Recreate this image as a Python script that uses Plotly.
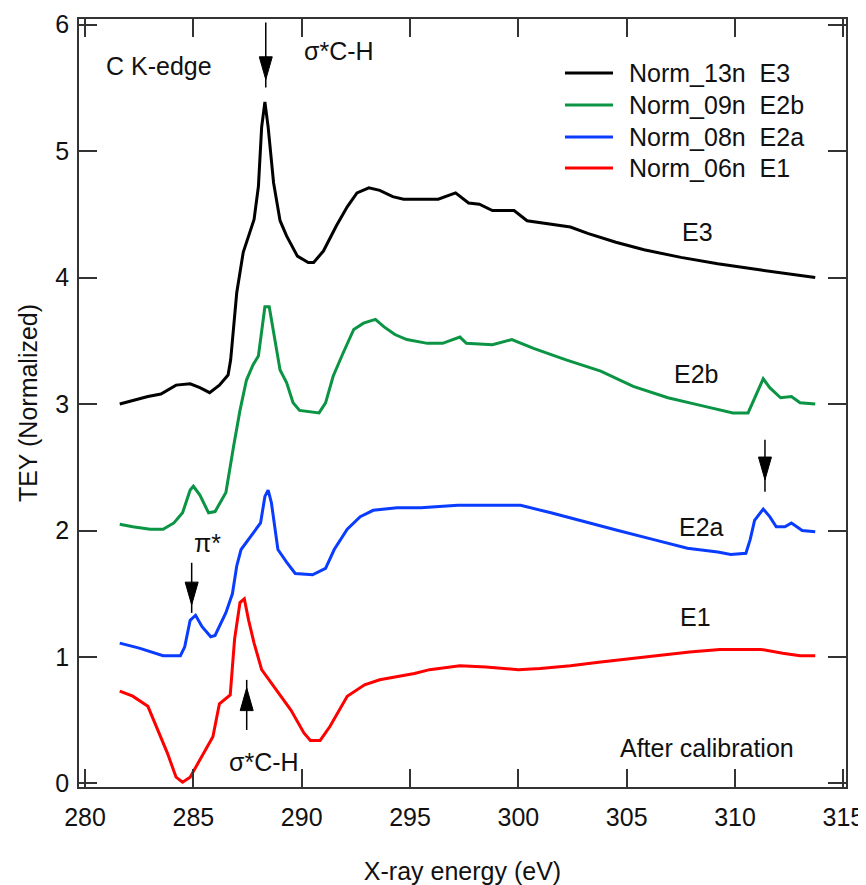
import plotly.graph_objects as go

# ---------------- data ----------------
e3_energy = [281.6, 282.2, 282.9, 283.5, 284.2, 284.85, 285.3, 285.75, 286.2, 286.6, 286.72,
             287.0, 287.3, 287.8, 288.0, 288.15, 288.3, 288.45, 288.7, 289.0, 289.3, 289.8,
             290.3, 290.55, 291.0, 291.6, 292.1, 292.55, 293.1, 293.6, 294.2, 294.7, 296.3,
             297.1, 297.7, 298.2, 298.8, 299.8, 300.4, 302.4, 303.2, 304.5, 305.8, 307.5,
             309.2, 311.2, 313.0, 313.7]
e3_tey = [3.00, 3.03, 3.06, 3.08, 3.15, 3.16, 3.13, 3.09, 3.15, 3.23, 3.35,
          3.88, 4.20, 4.46, 4.72, 5.19, 5.39, 5.19, 4.75, 4.45, 4.33, 4.17,
          4.12, 4.12, 4.21, 4.41, 4.56, 4.67, 4.71, 4.69, 4.64, 4.62, 4.62,
          4.67, 4.59, 4.58, 4.53, 4.53, 4.45, 4.40, 4.35, 4.28, 4.22, 4.16,
          4.11, 4.06, 4.02, 4.00]

e2b_energy = [281.6, 282.2, 283.0, 283.6, 284.1, 284.5, 284.85, 285.0, 285.3, 285.7, 286.0, 286.5,
              286.85, 287.15, 287.45, 287.75, 288.0, 288.3, 288.5, 289.0, 289.3, 289.6, 289.9, 290.8,
              291.1, 291.45, 291.9, 292.4, 292.85, 293.4, 293.8, 294.3, 294.85, 295.8, 296.5, 297.15,
              297.3, 297.6, 298.8, 299.7, 300.7, 302.2, 303.8, 305.3, 306.9, 308.4, 309.9, 310.6,
              311.0, 311.3, 311.6, 312.1, 312.6, 313.0, 313.7]
e2b_tey = [2.05, 2.03, 2.01, 2.01, 2.06, 2.14, 2.32, 2.35, 2.28, 2.14, 2.15, 2.30,
           2.66, 2.95, 3.19, 3.31, 3.38, 3.77, 3.77, 3.27, 3.17, 3.01, 2.95, 2.93,
           3.01, 3.22, 3.40, 3.59, 3.64, 3.67, 3.61, 3.55, 3.51, 3.48, 3.48, 3.52,
           3.53, 3.48, 3.47, 3.51, 3.44, 3.35, 3.26, 3.14, 3.05, 2.99, 2.93, 2.93,
           3.09, 3.20, 3.13, 3.05, 3.06, 3.01, 3.00]

e2a_energy = [281.6, 282.5, 283.6, 284.4, 284.6, 284.85, 285.1, 285.4, 285.8, 286.0, 286.5, 286.8,
              287.0, 287.2, 287.8, 288.1, 288.3, 288.45, 288.6, 288.9, 289.3, 289.7, 290.5, 291.1,
              291.5, 292.1, 292.7, 293.3, 294.4, 295.5, 297.2, 299.0, 300.1, 301.5, 303.0, 304.6,
              306.2, 307.8, 309.2, 309.8, 310.5, 310.7, 310.9, 311.3, 311.6, 311.9, 312.3, 312.6,
              313.1, 313.7]
e2a_tey = [1.11, 1.07, 1.01, 1.01, 1.08, 1.29, 1.33, 1.24, 1.16, 1.17, 1.35, 1.50,
           1.72, 1.85, 1.99, 2.06, 2.27, 2.32, 2.22, 1.85, 1.75, 1.66, 1.65, 1.70,
           1.85, 2.01, 2.11, 2.16, 2.18, 2.18, 2.20, 2.20, 2.20, 2.14, 2.07, 2.00,
           1.93, 1.86, 1.83, 1.81, 1.82, 1.93, 2.08, 2.17, 2.11, 2.03, 2.03, 2.06,
           2.00, 1.99]

e1_energy = [281.6, 282.2, 282.9, 283.3, 283.8, 284.2, 284.5, 284.85, 285.3, 285.9, 286.2, 286.7,
             286.9, 287.15, 287.35, 287.55, 287.8, 288.15, 288.7, 289.5, 290.1, 290.4, 290.85, 291.3,
             292.1, 292.9, 293.6, 295.2, 295.9, 297.3, 298.5, 300.0, 301.0, 302.4, 303.8, 305.3,
             306.7, 307.9, 309.3, 311.2, 312.2, 313.0, 313.7]
e1_tey = [0.73, 0.69, 0.61, 0.45, 0.24, 0.05, 0.01, 0.05, 0.19, 0.37, 0.63, 0.70,
          1.14, 1.43, 1.46, 1.29, 1.11, 0.90, 0.77, 0.58, 0.40, 0.34, 0.34, 0.45,
          0.69, 0.78, 0.82, 0.87, 0.90, 0.93, 0.92, 0.90, 0.91, 0.93, 0.96, 0.99,
          1.02, 1.04, 1.06, 1.06, 1.03, 1.01, 1.01]

series_names = ["Norm_13n\u00a0\u00a0E3", "Norm_09n\u00a0\u00a0E2b", "Norm_08n\u00a0\u00a0E2a", "Norm_06n\u00a0\u00a0E1"]
series_colors = ["#000000", "#0a9444", "#0a3cff", "#ff0000"]

x_ticks = [280, 285, 290, 295, 300, 305, 310, 315]
y_ticks = [0, 1, 2, 3, 4, 5, 6]

# annotation labels: (text, x, y, xanchor)
labels = [
    ("C K-edge", 280.88, 5.67, "left"),
    ("σ*C-H", 290.0, 5.79, "left"),
    ("π*", 285.63, 1.90, "center"),
    ("σ*C-H", 286.55, 0.17, "left"),
    ("E3", 307.46, 4.36, "left"),
    ("E2b", 307.09, 3.24, "left"),
    ("E2a", 307.32, 2.03, "left"),
    ("E1", 307.37, 1.32, "left"),
    ("After calibration", 304.6, 0.28, "left"),
]

# arrows: (x, tail y, tip y, end y)
arrows = [
    (288.34, 6.017, 5.566, 5.503),
    (284.92, 1.745, 1.412, 1.349),
    (287.46, 0.423, 0.756, 0.819),
    (311.38, 2.718, 2.401, 2.306),
]

# legend layout (paper coordinates of the plot area)
legend_line_x = (0.6336, 0.6962)
legend_text_x = 0.7145
legend_rows_y = [0.9297, 0.888, 0.8464, 0.806]

FONT = "Liberation Sans, Arial, sans-serif"
FS = 25
TXT = "#111111"

fig = go.Figure()
for xs, ys, name, col in zip([e3_energy, e2b_energy, e2a_energy, e1_energy],
                             [e3_tey, e2b_tey, e2a_tey, e1_tey],
                             series_names, series_colors):
    fig.add_trace(go.Scatter(x=xs, y=ys, mode="lines", name=name, showlegend=False,
                             line=dict(color=col, width=3)))

shapes = []
annotations = []

# arrows
head_len = 0.18
head_hw = 0.3
for ax_, tail, tip, end in arrows:
    shapes.append(dict(type="line", xref="x", yref="y", x0=ax_, x1=ax_, y0=tail, y1=end,
                       line=dict(color="black", width=1.5)))
    d = 1 if tip < tail else -1  # pointing down => base above tip
    base = tip + d * head_len
    shapes.append(dict(type="path", xref="x", yref="y",
                       path=f"M{ax_-head_hw},{base} L{ax_+head_hw},{base} L{ax_},{tip} Z",
                       fillcolor="black", line=dict(color="black", width=1)))

# legend entries
for name, col, ry in zip(series_names, series_colors, legend_rows_y):
    shapes.append(dict(type="line", xref="paper", yref="paper",
                       x0=legend_line_x[0], x1=legend_line_x[1], y0=ry, y1=ry,
                       line=dict(color=col, width=3)))
    annotations.append(dict(text=name, x=legend_text_x, y=ry, xref="paper", yref="paper",
                            xanchor="left", yanchor="middle", showarrow=False,
                            font=dict(family=FONT, size=FS, color=TXT)))

for txt, x, y, xa in labels:
    annotations.append(dict(text=txt, x=x, y=y, xref="x", yref="y", xanchor=xa, yanchor="middle",
                            showarrow=False, font=dict(family=FONT, size=FS, color=TXT)))

axis_common = dict(showgrid=False, zeroline=False, showline=True, linecolor="#333333", linewidth=1.5,
                   ticks="inside", ticklen=18, tickwidth=1.5, tickcolor="#333333", mirror="ticks",
                   automargin=False,
                   tickfont=dict(family=FONT, size=FS, color=TXT))

# the page body adds an 8 px offset, so the figure is 8 px smaller than the window
fig.update_layout(
    width=858, height=877,
    margin=dict(l=71, r=20, t=11, b=98),
    paper_bgcolor="white", plot_bgcolor="white",
    font=dict(family=FONT, size=FS, color=TXT),
    showlegend=False,
    xaxis=dict(range=[279.72, 315.12], tickvals=x_ticks, ticklabelstandoff=7,
               title=dict(text="X-ray energy (eV)", standoff=34, font=dict(family=FONT, size=FS)),
               **axis_common),
    yaxis=dict(range=[-0.028, 6.045], tickvals=y_ticks, ticklabelstandoff=3,
               title=dict(text="TEY (Normalized)", standoff=11, font=dict(family=FONT, size=FS)),
               **axis_common),
    shapes=shapes,
    annotations=annotations,
)

fig.write_html("out.html")
